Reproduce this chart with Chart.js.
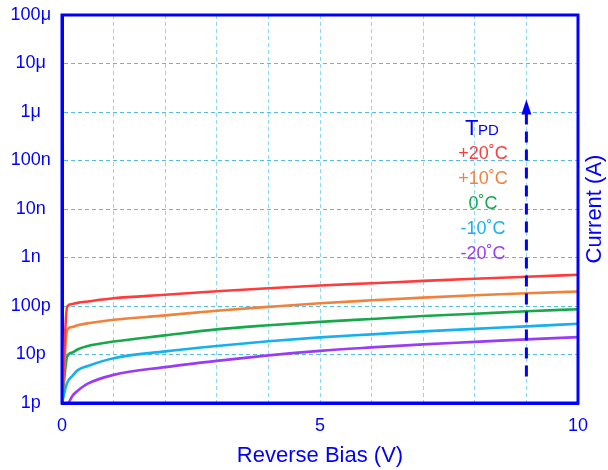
<!DOCTYPE html>
<html>
<head>
<meta charset="utf-8">
<script src="https://cdn.jsdelivr.net/npm/chart.js@4"></script>
<style>
  body { margin: 0; background: #fff; }
  #wrap { width: 608px; height: 470px; }
</style>
</head>
<body>
<div id="wrap"><canvas id="ivChart" width="608" height="470"></canvas></div>
<script>
// reverse bias (V)
const biasX = [0, 0.1, 0.2, 0.3, 0.5, 1, 2, 3, 4, 5, 6, 7, 8, 9, 10];
const biasXCold = [0.13, 0.2, 0.3, 0.5, 1, 2, 3, 4, 5, 6, 7, 8, 9, 10];

// dark current in pA
const iPlus20 = [1, 98, 110, 116, 124, 144, 170, 201, 232, 264, 294, 329, 365, 401, 441];
const iPlus10 = [1, 32, 37, 40, 44, 52, 64, 80, 96, 114, 131, 149, 166, 183, 199];
const iZero = [1, 9.1, 11, 12.7, 15, 18.5, 24.8, 33, 40, 47, 54, 62, 69, 78, 86];
const iMinus10 = [1, 2.6, 3.6, 4.7, 5.8, 8.4, 11.6, 15, 18.7, 22.5, 26, 30, 33.8, 38, 43];
const iMinus20 = [1, 1.4, 1.77, 2.5, 3.8, 5.5, 7.4, 9.6, 11.9, 14, 16.2, 18.2, 20.5, 22.8];

const tempLabels = ['+20˚C', '+10˚C', '0˚C', '-10˚C', '-20˚C'];
const tempColors = ['#ff3b3b', '#f0823c', '#18a84c', '#16b0f0', '#9a3cf4'];

const yTickLabels = ['1p', '10p', '100p', '1n', '10n', '100n', '1μ', '10μ', '100μ'];
const yTickValues = [1e-12, 1e-11, 1e-10, 1e-9, 1e-8, 1e-7, 1e-6, 1e-5, 1e-4];
const xTickLabels = {0: '0', 5: '5', 10: '10'};

// arrow showing temperature increase
const arrowX = 9;
const arrowFrom = 3.5e-12;
const arrowTo = 1.8e-6;

const BLUE = '#0000ff';
const FONT = '"Liberation Sans", Arial, sans-serif';

function toPoints(xs, pA) {
    return xs.map((x, i) => ({ x: x, y: pA[i] * 1e-12 }));
}

const seriesList = [
    toPoints(biasX, iPlus20),
    toPoints(biasX, iPlus10),
    toPoints(biasX, iZero),
    toPoints(biasX, iMinus10),
    toPoints(biasXCold, iMinus20)
];

const extrasPlugin = {
    id: 'extras',
    afterDatasetsDraw(chart) {
        const ctx = chart.ctx;
        const a = chart.chartArea;
        const xs = chart.scales.x, ys = chart.scales.y;

        // arrow
        const ax = xs.getPixelForValue(arrowX);
        const y0 = ys.getPixelForValue(arrowFrom);
        const y1 = ys.getPixelForValue(arrowTo);
        ctx.save();
        ctx.strokeStyle = BLUE;
        ctx.fillStyle = BLUE;
        ctx.lineWidth = 3;
        ctx.setLineDash([11, 7]);
        ctx.beginPath();
        ctx.moveTo(ax, y0);
        ctx.lineTo(ax, y1 + 12);
        ctx.stroke();
        ctx.setLineDash([]);
        ctx.beginPath();
        ctx.moveTo(ax, y1);
        ctx.lineTo(ax - 5, y1 + 15);
        ctx.lineTo(ax + 5, y1 + 15);
        ctx.closePath();
        ctx.fill();

        // legend text
        ctx.textBaseline = 'alphabetic';
        ctx.textAlign = 'left';
        ctx.font = '22px ' + FONT;
        ctx.fillText('T', 465, 135);
        ctx.font = '15px ' + FONT;
        ctx.fillText('PD', 478, 135);
        ctx.font = '18px ' + FONT;
        ctx.textAlign = 'center';
        tempLabels.forEach((t, i) => {
            ctx.fillStyle = tempColors[i];
            ctx.fillText(t, 483, 159 + i * 25);
        });

        // frame
        ctx.strokeStyle = BLUE;
        ctx.lineWidth = 3;
        ctx.strokeRect(a.left, a.top, a.right - a.left, a.bottom - a.top);

        // right title
        ctx.fillStyle = BLUE;
        ctx.font = '22px ' + FONT;
        ctx.textAlign = 'center';
        ctx.textBaseline = 'middle';
        ctx.translate(595, (a.top + a.bottom) / 2);
        ctx.rotate(-Math.PI / 2);
        ctx.fillText('Current (A)', 0, 0);
        ctx.restore();
    }
};

const ctx = document.getElementById('ivChart').getContext('2d');
const chart = new Chart(ctx, {
    type: 'line',
    data: {
        datasets: seriesList.map((pts, i) => ({
            label: tempLabels[i],
            data: pts,
            borderColor: tempColors[i],
            borderWidth: 2.6,
            pointRadius: 0,
            fill: false,
            cubicInterpolationMode: 'monotone'
        }))
    },
    options: {
        responsive: false,
        animation: false,
        layout: { padding: { top: 15, right: 30, left: 0, bottom: 0 } },
        plugins: {
            legend: { display: false },
            tooltip: { enabled: false }
        },
        scales: {
            x: {
                type: 'linear',
                min: 0,
                max: 10,
                afterFit(scale) {
                    scale.height = 67;
                    scale.paddingLeft = 0;
                    scale.paddingRight = 0;
                },
                ticks: {
                    stepSize: 1,
                    maxRotation: 0,
                    autoSkip: false,
                    padding: 12,
                    color: BLUE,
                    font: { family: FONT, size: 18 },
                    callback: v => xTickLabels[v] !== undefined ? xTickLabels[v] : ''
                },
                grid: { color: '#8ed8f0', lineWidth: 1, drawTicks: false },
                border: { color: BLUE, width: 3, dash: [4, 3] },
                title: {
                    display: true,
                    text: 'Reverse Bias (V)',
                    color: BLUE,
                    font: { family: FONT, size: 22 },
                    padding: { top: 0, bottom: 1 }
                }
            },
            y: {
                type: 'logarithmic',
                min: 1e-12,
                max: 1e-4,
                afterFit(scale) {
                    scale.width = 62;
                    scale.paddingTop = 0;
                    scale.paddingBottom = 0;
                },
                afterBuildTicks(scale) {
                    scale.ticks = yTickValues.map(v => ({ value: v }));
                },
                ticks: {
                    padding: 11,
                    crossAlign: 'center',
                    color: BLUE,
                    font: { family: FONT, size: 18 },
                    callback: (v) => {
                        const i = yTickValues.findIndex(t => Math.abs(Math.log10(t) - Math.log10(v)) < 1e-6);
                        return i >= 0 ? yTickLabels[i] : '';
                    }
                },
                grid: { color: '#55bde4', lineWidth: 1, drawTicks: false },
                border: { color: BLUE, width: 3, dash: [4, 3] }
            }
        }
    },
    plugins: [extrasPlugin]
});
</script>
</body>
</html>
